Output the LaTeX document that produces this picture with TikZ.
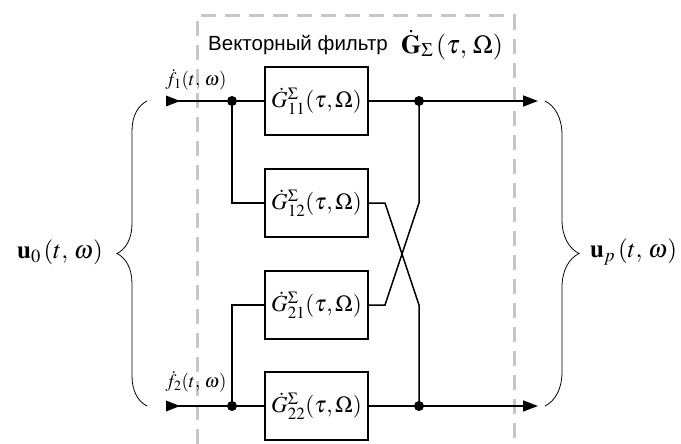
\documentclass[tikz,border=0pt]{standalone}
\usepackage{mathptmx}
\usepackage{fontspec}
\setmainfont{Liberation Serif}
\newfontfamily\sansf{Liberation Sans}
\usetikzlibrary{arrows.meta,decorations.pathreplacing}
\begin{document}
\begin{tikzpicture}[x=1pt,y=-1pt,
  blk/.style={draw,line width=2pt,minimum width=103pt,minimum height=68pt,inner sep=0pt,font=\fontsize{23}{25}\selectfont},
  wire/.style={line width=1.5pt},
  arr/.style={wire,-{Triangle[length=15pt,width=11pt]}},
  junc/.style={circle,fill,inner sep=0pt,minimum size=10pt},
  lbl/.style={inner sep=0pt,font=\fontsize{19}{21}\selectfont},
  biglbl/.style={inner sep=0pt,font=\fontsize{25}{27}\selectfont},
  frame/.style={draw=black!22,line width=3pt,dash pattern=on 15pt off 9pt},
  brc/.style={decorate,line width=0.8pt}
]
\useasboundingbox (0,0) rectangle (681,444);
% dashed filter frame
\draw[frame] (197,444) -- (197,16) -- (514,16) -- (514,444);
\node[anchor=west,inner sep=0pt,font=\sansf\fontsize{20.5}{23}\selectfont] (title) at (208,45) {Векторный фильтр};
\node[anchor=west,inner sep=0pt,font=\fontsize{26}{28}\selectfont] (titlem) at (401,45) {$\dot{\mathbf{G}}_{\Sigma}\,(\tau,\,\Omega)$};
% blocks
\node[blk] (g11) at (316.5,101) {$\dot{G}^{\Sigma}_{11}(\tau,\Omega)$};
\node[blk] (g12) at (316.5,203) {$\dot{G}^{\Sigma}_{12}(\tau,\Omega)$};
\node[blk] (g21) at (316.5,305) {$\dot{G}^{\Sigma}_{21}(\tau,\Omega)$};
\node[blk] (g22) at (316.5,406) {$\dot{G}^{\Sigma}_{22}(\tau,\Omega)$};
% junctions
\node[junc] (l1) at (232,101) {};
\node[junc] (l2) at (232,406) {};
\node[junc] (r1) at (419,101) {};
\node[junc] (r2) at (419,406) {};
% end points
\coordinate (in1) at (166,101);
\coordinate (in2) at (166,406);
\coordinate (out1) at (538,101);
\coordinate (out2) at (538,406);
\coordinate (c12) at (385,203);
\coordinate (c21) at (385,305);
\coordinate (d12) at (419,305);
\coordinate (d21) at (419,203);
% inputs
\draw[wire] (in1) -- (l1.center) -- (g11.west);
\draw[wire] (in2) -- (l2.center) -- (g22.west);
\fill (in1) -- ++(14,0) -- ++(-14,-5.5) -- cycle;
\fill (in1) -- ++(14,0) -- ++(-14,5.5) -- cycle;
\fill (in2) -- ++(14,0) -- ++(-14,-5.5) -- cycle;
\fill (in2) -- ++(14,0) -- ++(-14,5.5) -- cycle;
\draw[wire] (l1.center) |- (g12.west);
\draw[wire] (l2.center) |- (g21.west);
% outputs
\draw[arr] (g11.east) -- (r1.center) -- (out1);
\draw[arr] (g22.east) -- (r2.center) -- (out2);
\draw[wire] (g12.east) -- (c12) -- (d12) -- (r2.center);
\draw[wire] (g21.east) -- (c21) -- (d21) -- (r1.center);
% labels
\node[lbl] (f1) at (196,80) {$\dot{f}_1(t,\,\omega)$};
\node[lbl] (f2) at (196,382) {$\dot{f}_2(t,\,\omega)$};
% braces
\coordinate (b1a) at (147,406);
\coordinate (b1b) at (147,101);
\draw[brc,decoration={brace,amplitude=30pt}] (b1a) -- (b1b);
\coordinate (b2a) at (545,101);
\coordinate (b2b) at (545,406);
\draw[brc,decoration={brace,amplitude=34pt}] (b2a) -- (b2b);
\node[biglbl,anchor=east] (u0) at (103,252) {$\mathbf{u}_{0}\,(t,\,\omega)$};
\node[biglbl,anchor=west] (up) at (590,252) {$\mathbf{u}_{p}\,(t,\,\omega)$};
\end{tikzpicture}
\end{document}
